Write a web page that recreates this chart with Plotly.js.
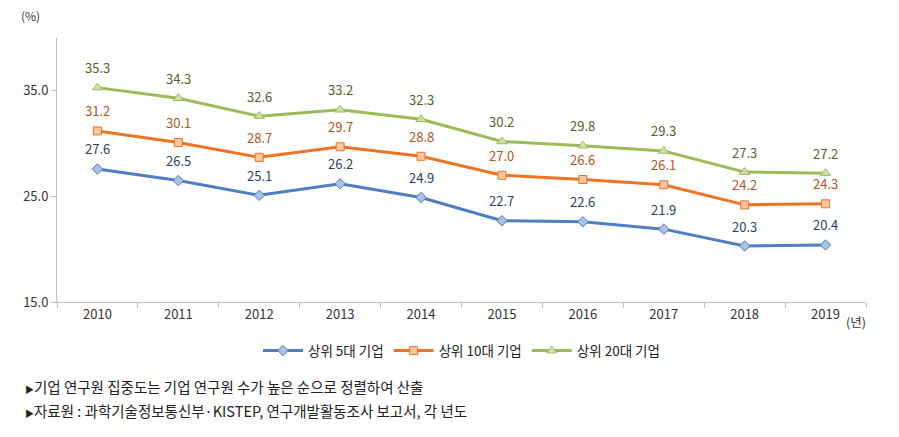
<!DOCTYPE html>
<html><head><meta charset="utf-8">
<script src="https://cdn.plot.ly/plotly-3.0.1.min.js"></script>
<style>html,body{margin:0;padding:0;background:#fff}#chart{width:899px;height:437px}</style>
</head><body><div id="chart"></div>
<script>
const years = ['2010','2011','2012','2013','2014','2015','2016','2017','2018','2019'];
const top5 = [27.6,26.5,25.1,26.2,24.9,22.7,22.6,21.9,20.3,20.4];
const top10 = [31.2,30.1,28.7,29.7,28.8,27.0,26.6,26.1,24.2,24.3];
const top20 = [35.3,34.3,32.6,33.2,32.3,30.2,29.8,29.3,27.3,27.2];
const names = ['상위 5대 기업','상위 10대 기업','상위 20대 기업'];
const yTicks = [15,25,35];
const notes = ['기업 연구원 집중도는 기업 연구원 수가 높은 순으로 정렬하여 산출',
               '자료원 : 과학기술정보통신부·KISTEP, 연구개발활동조사 보고서, 각 년도'];

const FONT = '"Noto Sans CJK KR", "Noto Sans", sans-serif';
const series = [
  {y: top5, name: names[0], line: '#4F7EC2', fill: '#A9C2E6', sym: 'diamond', size: 8, lab: '#2A3F5F'},
  {y: top10, name: names[1], line: '#EC7424', fill: '#F9C6A0', sym: 'square', size: 8, lab: '#B0561A'},
  {y: top20, name: names[2], line: '#9BBB59', fill: '#CFE0AE', sym: 'triangle-up', size: 9, lab: '#4F6228'}
];
const traces = series.map(s => ({
  x: years, y: s.y, name: s.name, type: 'scatter', mode: 'lines+markers',
  line: {color: s.line, width: 3},
  marker: {symbol: s.sym, size: s.size, color: s.fill, line: {color: s.line, width: 1}},
  hoverinfo: 'none'
}));
const annotations = [];
series.forEach(s => {
  s.y.forEach((v, i) => {
    annotations.push({x: i, y: v, xref: 'x', yref: 'y', text: v.toFixed(1),
      showarrow: false, yshift: 20, font: {family: FONT, size: 13, color: s.lab}});
  });
});
annotations.push({xref: 'paper', yref: 'paper', x: -0.033, y: 1.085, xanchor: 'center', yanchor: 'middle',
  text: '(%)', showarrow: false, font: {family: FONT, size: 12, color: '#333'}});
annotations.push({xref: 'paper', yref: 'paper', x: 0.988, y: -0.075, xanchor: 'center', yanchor: 'middle',
  text: '(년)', showarrow: false, font: {family: FONT, size: 12.5, color: '#333'}});
notes.forEach((t, i) => {
  annotations.push({xref: 'paper', yref: 'paper', x: -0.042, y: -0.32 - i * 0.091, xanchor: 'left', yanchor: 'middle',
    text: '<span style="font-size:9px">▶</span>' + t, showarrow: false, align: 'left',
    font: {family: FONT, size: 14.5, color: '#222'}});
});

const layout = {
  width: 899, height: 437,
  margin: {l: 57, r: 33, t: 38, b: 135},
  paper_bgcolor: '#fff', plot_bgcolor: '#fff',
  font: {family: FONT, size: 12, color: '#333'},
  showlegend: true,
  legend: {orientation: 'h', x: 0.5, xanchor: 'center', y: -0.185, yanchor: 'middle',
    font: {family: FONT, size: 13.5, color: '#222'}, itemwidth: 40, tracegroupgap: 0},
  xaxis: {type: 'category', range: [-0.5, 9.5], showgrid: false, zeroline: false,
    showline: true, linecolor: '#BFBFBF', linewidth: 1,
    ticks: 'outside', tickson: 'boundaries', ticklen: 5, tickcolor: '#BFBFBF',
    tickfont: {family: FONT, size: 13, color: '#333'}},
  yaxis: {range: [15, 40], tickvals: yTicks, ticktext: yTicks.map(v => v.toFixed(1)),
    showgrid: false, zeroline: false, showline: true, linecolor: '#BFBFBF', linewidth: 1,
    ticks: 'outside', ticklen: 5, tickcolor: '#BFBFBF',
    tickfont: {family: FONT, size: 13, color: '#333'}},
  annotations: annotations
};
Plotly.newPlot('chart', traces, layout, {displayModeBar: false, staticPlot: true});
</script>
</body></html>
